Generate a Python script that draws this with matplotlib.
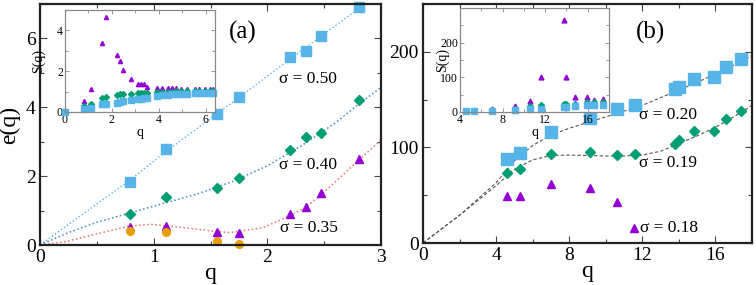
import matplotlib
matplotlib.use("Agg")
import matplotlib.pyplot as plt
import numpy as np
from matplotlib.ticker import MultipleLocator

plt.rcParams['font.family'] = ['Liberation Serif', 'DejaVu Serif']

BLUE = '#56B4E9'
GREEN = '#009E73'
PURPLE = '#9400D3'
ORANGE = '#E69F00'

# ---- panel (a): e(q) ----
qa = [0.79, 1.11, 1.56, 1.75, 2.20, 2.34, 2.47, 2.81]
ea_050 = [1.84, 2.79, 3.80, 4.31, 5.45, 5.63, 6.07, 6.92]
ea_040 = [0.91, 1.40, 1.66, 1.94, 2.76, 3.15, 3.26, 4.21]
ea_035 = [0.53, 0.56, 0.39, 0.36, 0.89, 1.11, 1.50, 2.49]
qa_circ = [0.79, 1.11, 1.56, 1.75]
ea_circ = [0.42, 0.39, 0.13, 0.02]

# fitted curves (a)
fit_q_050 = [0.0, 0.79, 1.11, 1.56, 1.75, 2.20, 2.47, 2.86]
fit_e_050 = [0.0, 1.88, 2.72, 3.82, 4.28, 5.40, 6.06, 7.0]
fit_q_040 = [0.0, 0.25, 0.5, 0.79, 1.1, 1.4, 1.7, 2.0, 2.3, 2.6, 2.8, 3.0]
fit_e_040 = [0.0, 0.36, 0.66, 0.93, 1.22, 1.50, 1.85, 2.30, 2.88, 3.55, 4.08, 4.58]
fit_q_035 = [0.0, 0.23, 0.52, 0.79, 0.98, 1.27, 1.53, 1.67, 1.96, 2.2, 2.34, 2.47, 2.8, 3.0]
fit_e_035 = [0.0, 0.10, 0.34, 0.55, 0.60, 0.50, 0.40, 0.36, 0.50, 0.85, 1.10, 1.45, 2.45, 3.05]

# inset (a): S(q)
qs_a = [0.0, 0.79, 1.11, 1.57, 1.75, 2.22, 2.36, 2.49, 2.82, 3.12, 3.26, 3.35, 3.51,
        3.93, 4.15, 4.40, 4.58, 4.73, 4.94, 5.20, 5.56, 5.70, 5.98, 6.20, 6.33]
sa_035 = [np.nan, 0.54, 1.12, 3.38, 4.65, 2.80, 2.51, 2.07, 1.61, 1.39, 1.36, 1.35, 1.25,
          1.20, 1.18, 1.17, 1.17, 1.16, 1.15, 1.15, 1.13, 1.13, 1.12, 1.12, 1.12]
sa_040 = [np.nan, 0.30, 0.38, 0.71, 0.75, 0.83, 0.87, 0.88, 0.88, 0.92, 0.92, 0.92, 0.95,
          0.98, 0.99, 1.00, 1.00, 1.01, 1.01, 1.02, 1.02, 1.03, 1.03, 1.03, 1.04]
sa_050 = [0.0, 0.17, 0.21, 0.38, 0.41, 0.46, 0.49, 0.54, 0.60, 0.64, 0.66, 0.67, 0.70,
          0.78, 0.81, 0.84, 0.86, 0.87, 0.89, 0.90, 0.92, 0.94, 0.94, 0.94, 0.95]

# ---- panel (b): e(q) ----
qb = [4.58, 5.29, 6.99, 9.16, 10.6, 11.6, 13.8, 14.0, 14.8, 15.9, 16.6, 17.4]
eb_020 = [88, 94, 116, 131, 140, 144, 161, 163, 172, 174, 184, 192]
eb_019 = [73, 77, 93, 95, 92, 93, 104, 108, 117, 117, 130, 138]
qb_018 = [4.58, 5.29, 6.99, 9.16, 10.6]
eb_018 = [49, 49, 62, 58, 43]

fit_q_b = [0, 2, 4, 5, 6, 7, 8, 9, 10, 11, 12, 13, 14, 15, 16, 17, 18]
fit_e_020 = [0, 29, 63, 86, 102, 113, 120, 126, 132, 138, 144, 152, 160, 168, 177, 186, 196]
fit_e_019 = [0, 29, 60, 77, 87, 91.5, 92, 91.5, 91, 91, 92, 96, 104, 112, 121, 132, 144]

# inset (b): S(q)
sb_020 = [2, 2, 3, 6, 8, 10, 14, 15, 16, 19, 20, 21]
sb_019 = [3, 3, 5, 10, 16, 20, 24, 24, 24, 28, 28, 30]
sb_018 = [4, 4, 9, 18, 33, 102, 266, 100, 44, 42, 35, 37]

fig = plt.figure(figsize=(7.56, 2.85), dpi=100)
W, H = 756, 285
ax_a = fig.add_axes([40 / W, 1 - 245 / H, 341 / W, 241 / H])
ax_b = fig.add_axes([423 / W, 1 - 243 / H, 329 / W, 239 / H])
ins_a = fig.add_axes([65 / W, 1 - 112 / H, 150 / W, 102 / H])
ins_b = fig.add_axes([460 / W, 1 - 112 / H, 149 / W, 104 / H])


def style_main(ax):
    for s in ax.spines.values():
        s.set_linewidth(1.6)
        s.set_color('#222222')
    ax.tick_params(which='both', direction='in', top=True, right=True,
                   labelsize=14, pad=3, color='#444444')
    ax.tick_params(which='major', length=5, width=0.8)
    ax.tick_params(which='minor', length=3, width=0.8)


def style_inset(ax):
    for s in ax.spines.values():
        s.set_linewidth(0.9)
        s.set_color('#888888')
    ax.tick_params(which='both', direction='in', top=True, right=True,
                   labelsize=8.5, pad=1.5, color='#888888')
    ax.tick_params(which='major', length=3, width=0.6)
    ax.tick_params(which='minor', length=2, width=0.6)


# panel (a)
ax_a.plot(fit_q_050, fit_e_050, ls=':', color=BLUE, lw=1.0)
ax_a.plot(fit_q_040, fit_e_040, ls=':', color='#3f8cc4', lw=1.1)
ax_a.plot(fit_q_035, fit_e_035, ls=':', color='#f07070', lw=1.1)
ax_a.plot(qa, ea_050, 's', color=BLUE, ms=7.5, clip_on=False)
ax_a.plot(qa, ea_040, 'D', color=GREEN, ms=5.5, clip_on=False)
ax_a.plot(qa, ea_035, '^', color=PURPLE, ms=5.5, clip_on=False)
ax_a.plot(qa_circ, ea_circ, 'o', color=ORANGE, ms=5.5, clip_on=False)
ax_a.set_xlim(0, 3)
ax_a.set_ylim(0, 7)
ax_a.xaxis.set_major_locator(MultipleLocator(1))
ax_a.xaxis.set_minor_locator(MultipleLocator(0.5))
ax_a.yaxis.set_major_locator(MultipleLocator(2))
ax_a.yaxis.set_minor_locator(MultipleLocator(1))
style_main(ax_a)
ax_a.set_xlabel('q', fontsize=17, labelpad=-2)
ax_a.set_ylabel('e(q)', fontsize=17, labelpad=4)
ax_a.text(0.595, 0.88, '(a)', transform=ax_a.transAxes, fontsize=18,
          ha='center', va='center')
ax_a.text(0.785, 0.69, 'σ = 0.50', transform=ax_a.transAxes, fontsize=12.5,
          ha='center', va='center')
ax_a.text(0.785, 0.33, 'σ = 0.40', transform=ax_a.transAxes, fontsize=12.5,
          ha='center', va='center')
ax_a.text(0.79, 0.07, 'σ = 0.35', transform=ax_a.transAxes, fontsize=12.5,
          ha='center', va='center')

# inset (a)
ins_a.plot(qs_a, sa_035, '^', color=PURPLE, ms=3, clip_on=False)
ins_a.plot(qs_a, sa_040, 'D', color=GREEN, ms=3, clip_on=False)
ins_a.plot(qs_a, sa_050, 's', color=BLUE, ms=4, clip_on=False)
ins_a.set_xlim(0, 6.4)
ins_a.set_ylim(0, 5)
ins_a.xaxis.set_major_locator(MultipleLocator(2))
ins_a.xaxis.set_minor_locator(MultipleLocator(1))
ins_a.yaxis.set_major_locator(MultipleLocator(2))
ins_a.yaxis.set_minor_locator(MultipleLocator(1))
style_inset(ins_a)
ins_a.set_xlabel('q', fontsize=10, labelpad=0)
ins_a.set_ylabel('S(q)', fontsize=10)
ins_a.yaxis.set_label_coords(-0.13, 0.5)

# panel (b)
ax_b.plot(fit_q_b, fit_e_020, ls=(0, (3, 2)), color='#555555', lw=0.8)
ax_b.plot(fit_q_b, fit_e_019, ls=(0, (3, 2)), color='#555555', lw=0.8)
ax_b.plot(qb, eb_020, 's', color=BLUE, ms=8.5, clip_on=False)
ax_b.plot(qb, eb_019, 'D', color=GREEN, ms=5.5, clip_on=False)
ax_b.plot(qb_018, eb_018, '^', color=PURPLE, ms=6, clip_on=False)
ax_b.set_xlim(0, 18)
ax_b.set_ylim(0, 250)
ax_b.xaxis.set_major_locator(MultipleLocator(4))
ax_b.xaxis.set_minor_locator(MultipleLocator(2))
ax_b.yaxis.set_major_locator(MultipleLocator(100))
ax_b.yaxis.set_minor_locator(MultipleLocator(50))
style_main(ax_b)
ax_b.set_xlabel('q', fontsize=17, labelpad=-2)
ax_b.text(0.69, 0.88, '(b)', transform=ax_b.transAxes, fontsize=18,
          ha='center', va='center')
ax_b.text(0.745, 0.535, 'σ = 0.20', transform=ax_b.transAxes, fontsize=12.5,
          ha='center', va='center')
ax_b.text(0.745, 0.335, 'σ = 0.19', transform=ax_b.transAxes, fontsize=12.5,
          ha='center', va='center')
ax_b.plot([0.641], [0.063], '^', color=PURPLE, ms=6, transform=ax_b.transAxes)
ax_b.text(0.66, 0.063, 'σ = 0.18', transform=ax_b.transAxes, fontsize=12.5,
          ha='left', va='center')

# inset (b)
ins_b.plot(qb, sb_018, '^', color=PURPLE, ms=3.5, clip_on=False)
ins_b.plot(qb, sb_019, 'D', color=GREEN, ms=3, clip_on=False)
ins_b.plot(qb, sb_020, 's', color=BLUE, ms=5, clip_on=False)
ins_b.set_xlim(4, 18)
ins_b.set_ylim(0, 300)
ins_b.set_yticks([0, 100, 200])
ins_b.xaxis.set_major_locator(MultipleLocator(4))
ins_b.xaxis.set_minor_locator(MultipleLocator(2))
ins_b.yaxis.set_minor_locator(MultipleLocator(50))
style_inset(ins_b)
ins_b.set_xlabel('q', fontsize=10, labelpad=0)
ins_b.set_ylabel('S(q)', fontsize=10)
ins_b.yaxis.set_label_coords(-0.07, 0.5)

fig.savefig('out.png', dpi=100)
